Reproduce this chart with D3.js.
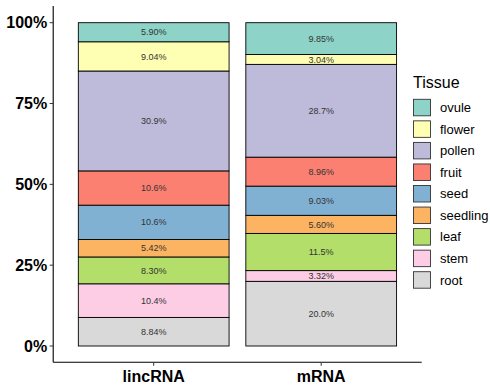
<!DOCTYPE html>
<html><head><meta charset="utf-8">
<script src="https://cdn.jsdelivr.net/npm/d3@7"></script>
<style>body{margin:0;background:#fff;} svg{display:block;font-family:"Liberation Sans",Arial,sans-serif;}</style>
</head><body>
<svg id="c" width="490" height="385"></svg>
<script>
const categories = ["lincRNA", "mRNA"];
const tissues = ["root", "stem", "leaf", "seedling", "seed", "fruit", "pollen", "flower", "ovule"];
const lincRNA = [8.84, 10.4, 8.30, 5.42, 10.6, 10.6, 30.9, 9.04, 5.90];
const mRNA = [20.0, 3.32, 11.5, 5.60, 9.03, 8.96, 28.7, 3.04, 9.85];
const labelsLinc = ["8.84%", "10.4%", "8.30%", "5.42%", "10.6%", "10.6%", "30.9%", "9.04%", "5.90%"];
const labelsMrna = ["20.0%", "3.32%", "11.5%", "5.60%", "9.03%", "8.96%", "28.7%", "3.04%", "9.85%"];
const colors = ["#D9D9D9", "#FCCDE5", "#B3DE69", "#FDB462", "#80B1D3", "#FB8072", "#BEBADA", "#FFFFB3", "#8DD3C7"];
const yTicks = [0, 25, 50, 75, 100];
const yTickLabels = ["0%", "25%", "50%", "75%", "100%"];
const legendOrder = ["ovule", "flower", "pollen", "fruit", "seed", "seedling", "leaf", "stem", "root"];

(function () {
const svg = d3.select("#c");
const pL = 53.2, pR = 421.7, pT = 6, pB = 362.3;
const y = d3.scaleLinear().domain([0, 100]).range([346, 22.7]);
const unit = (pR - pL) / (categories.length - 1 + 1.2);
const x = d3.scalePoint().domain(categories).range([pL + 0.6 * unit, pR - 0.6 * unit]);
const bw = unit * 0.9;

const data = [lincRNA, mRNA];
const labs = [labelsLinc, labelsMrna];
const color = d3.scaleOrdinal().domain(tissues).range(colors);

categories.forEach((cat, ci) => {
  let cum = 0;
  const g = svg.append("g");
  tissues.forEach((t, ti) => {
    const v = data[ci][ti];
    const y0 = cum, y1 = cum + v;
    cum = y1;
    g.append("rect")
      .attr("x", x(cat) - bw / 2).attr("width", bw)
      .attr("y", y(y1)).attr("height", y(y0) - y(y1))
      .attr("fill", color(t)).attr("stroke", "#000").attr("stroke-width", 0.9);
    g.append("text")
      .attr("x", x(cat)).attr("y", y((y0 + y1) / 2))
      .attr("dy", "0.35em").attr("text-anchor", "middle")
      .attr("font-size", 9).attr("fill", "#333")
      .text(labs[ci][ti]);
  });
});

// axes
svg.append("line").attr("x1", pL).attr("x2", pL).attr("y1", pT).attr("y2", pB).attr("stroke", "#000").attr("stroke-width", 1.1);
svg.append("line").attr("x1", pL).attr("x2", pR).attr("y1", pB).attr("y2", pB).attr("stroke", "#000").attr("stroke-width", 1.1);
yTicks.forEach((t, i) => {
  svg.append("line").attr("x1", pL - 3.5).attr("x2", pL).attr("y1", y(t)).attr("y2", y(t)).attr("stroke", "#333");
  svg.append("text").attr("x", pL - 6).attr("y", y(t)).attr("dy", "0.36em")
    .attr("text-anchor", "end").attr("font-size", 16).attr("font-weight", "bold").attr("fill", "#000")
    .text(yTickLabels[i]);
});
categories.forEach(c => {
  svg.append("line").attr("x1", x(c)).attr("x2", x(c)).attr("y1", pB).attr("y2", pB + 3.5).attr("stroke", "#333");
  svg.append("text").attr("x", x(c)).attr("y", 382).attr("text-anchor", "middle")
    .attr("font-size", 16).attr("font-weight", "bold").attr("fill", "#000").text(c);
});

// legend
const lg = svg.append("g");
lg.append("text").attr("x", 413).attr("y", 88).attr("font-size", 16).attr("fill", "#000").text("Tissue");
legendOrder.forEach((t, i) => {
  const yy = 99.3 + i * 21.55;
  lg.append("rect").attr("x", 413.5).attr("y", yy).attr("width", 17).attr("height", 16.5)
    .attr("fill", color(t)).attr("stroke", "#333").attr("stroke-width", 0.9);
  lg.append("text").attr("x", 440).attr("y", yy + 8.3).attr("dy", "0.35em").attr("font-size", 13).attr("fill", "#000").text(t);
});
})();
</script>
</body></html>
